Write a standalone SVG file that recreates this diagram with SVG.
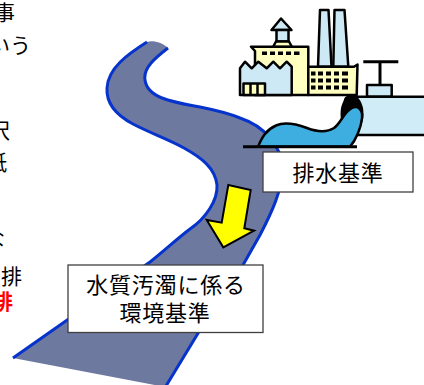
<svg xmlns="http://www.w3.org/2000/svg" width="424" height="385" viewBox="0 0 424 385">
  <style>
    .txt { font-family: "Noto Sans CJK JP", "Noto Sans", sans-serif; fill: #000; }
    .side { font-size: 21px; }
    .label { font-size: 22px; letter-spacing: 0.8px; text-anchor: middle; }
    .bank { fill: none; stroke: #0633cc; stroke-width: 3; stroke-linecap: butt; stroke-linejoin: round; }
    .ol { stroke: #000; stroke-width: 2.5; stroke-linejoin: round; }
    .box { fill: #fff; stroke: #404040; stroke-width: 1.3; }
  </style>

  <!-- body text running off the left edge -->
  <g id="side-text" class="txt side">
    <text x="-6" y="20">事</text>
    <text x="-11" y="53">いう</text>
    <text x="-11" y="138">沢</text>
    <text x="-14" y="170">紙</text>
    <text x="-16" y="246">な</text>
    <text x="1" y="284">排</text>
    <text x="-8" y="309" style="fill:#ff0000;font-weight:bold">排</text>
  </g>

  <!-- river -->
  <g id="river">
    <path fill="#6e79a0" d="M147,42 C128,54 108,68 107,88 C106,104 118,116 133,124 C150,133 168,139 184,148 C202,158 215,168 217,185 C218,200 206,218 190,229 C178,238 165,250 150,262 L13,358 L160,386 L166,386 L200,330 L243,265 L260,235 C272,212 282,190 283,168 C283,158 278,148 270,138 C262,128 252,122 240,118 C228,113 215,110 200,107 C190,105 175,103 162,98 C152,94 146,88 145,80 C143,68 155,58 168,48 C163,43 153,40 147,42 Z"/>
    <path class="bank" d="M147,42 C128,54 108,68 107,88 C106,104 118,116 133,124 C150,133 168,139 184,148 C202,158 215,168 217,185 C218,200 206,218 190,229 C178,238 165,250 150,262 L13,358"/>
    <path class="bank" d="M168,48 C155,58 143,68 145,80 C146,88 152,94 162,98 C175,103 190,105 200,107 C215,110 228,113 240,118 C252,122 262,128 270,138 C278,148 283,158 283,168 C282,190 272,212 260,235 L243,265 L200,330 L166,386"/>
  </g>

  <!-- factory with outflow pipe -->
  <g id="factory">
    <!-- water tower -->
    <polygon class="ol" fill="#cde9f5" points="271.5,30 281,18.5 291.5,30"/>
    <rect class="ol" fill="#cde9f5" x="276.5" y="30" width="12" height="11.5"/>
    <polygon class="ol" fill="#ffffc0" points="276,41.5 289,41.5 292,47 273,47"/>
    <!-- tall main building -->
    <polygon class="ol" fill="#ffffc0" points="251,46.7 308.3,46.7 308.3,95 255,95 255,51"/>
    <g fill="#000">
      <rect x="262" y="51.5" width="5" height="3.5"/>
      <rect x="270" y="51.5" width="5" height="3.5"/>
      <rect x="278" y="51.5" width="5" height="3.5"/>
      <rect x="286" y="51.5" width="5" height="3.5"/>
      <rect x="294" y="51.5" width="5.5" height="3.5"/>
    </g>
    <!-- saw-tooth shed -->
    <polygon class="ol" fill="#cde9f5" points="240,68.3 245,61.7 251.7,68.3 258.3,61.7 266.7,68.3 273.3,61.7 280,68.3 286.7,61.7 291.7,66.7 291.7,95 240,95"/>
    <rect class="ol" fill="#ffffc0" x="243.5" y="83.5" width="21.5" height="11.5"/>
    <line class="ol" x1="250.5" y1="83.5" x2="250.5" y2="95"/>
    <line class="ol" x1="257.5" y1="83.5" x2="257.5" y2="95"/>
    <!-- chimneys -->
    <polygon class="ol" fill="#cde9f5" points="320,10 328.5,10 331.5,66.7 318,66.7"/>
    <polygon class="ol" fill="#cde9f5" points="334.5,10 344.5,10 348.3,66.7 333.3,66.7"/>
    <!-- low building with window grid -->
    <polygon class="ol" fill="#ffffc0" points="308.3,66.7 354,66.7 357.5,64.5 356.7,95 308.3,95"/>
    <g fill="#000">
      <rect x="311" y="71.5" width="4.5" height="4"/><rect x="318" y="71.5" width="5" height="4"/><rect x="326" y="71.5" width="5" height="4"/><rect x="334" y="71.5" width="5" height="4"/><rect x="342" y="71.5" width="6" height="4"/>
      <rect x="311" y="78.5" width="4.5" height="4"/><rect x="318" y="78.5" width="5" height="4"/><rect x="326" y="78.5" width="5" height="4"/><rect x="334" y="78.5" width="5" height="4"/><rect x="342" y="78.5" width="6" height="4"/>
      <rect x="311" y="85.5" width="4.5" height="4"/><rect x="318" y="85.5" width="5" height="4"/><rect x="326" y="85.5" width="5" height="4"/><rect x="334" y="85.5" width="5" height="4"/><rect x="342" y="85.5" width="6" height="4"/>
    </g>
    <!-- valve -->
    <line x1="363.3" y1="61.7" x2="398.3" y2="61.7" stroke="#000" stroke-width="3"/>
    <line x1="380" y1="61.7" x2="380" y2="85" stroke="#000" stroke-width="3"/>
    <rect class="ol" fill="#cde9f5" x="367" y="85" width="24.7" height="11.7"/>
    <!-- pipe -->
    <rect class="ol" fill="#d0ecf7" x="345" y="96.7" width="90" height="38.3" rx="4"/>
    <ellipse cx="352" cy="114" rx="11.5" ry="19" fill="#000"/>
    <!-- outflow -->
    <path class="ol" fill="#3eaee0" d="M258,146.7 C262,137 266,130 276,125.5 C285,121.5 296,124 307,128 C316,131.5 326,133 334,128 C341,123 344,112 352,108 C358,105 363,110 362,118 C361,128 356,140 350,146.7 Z"/>
    <line x1="243" y1="146.7" x2="357" y2="146.7" stroke="#000" stroke-width="3"/>
  </g>

  <!-- flow arrow -->
  <g id="connectors">
    <polygon points="228.3,185 250.7,190 244.3,228.3 254,230.7 223.3,247.3 206.7,220 221.7,222.7" fill="#ffff00" stroke="#000" stroke-width="2" stroke-linejoin="miter"/>
  </g>

  <g id="effluent-standard">
    <rect class="box" x="263" y="152" width="150" height="40"/>
    <text class="txt label" x="338" y="181">排水基準</text>
  </g>

  <g id="environmental-standard">
    <rect class="box" x="68" y="265" width="195" height="67.5"/>
    <text class="txt label"><tspan x="166" y="293">水質汚濁に係る</tspan><tspan x="165" y="321">環境基準</tspan></text>
  </g>
</svg>
